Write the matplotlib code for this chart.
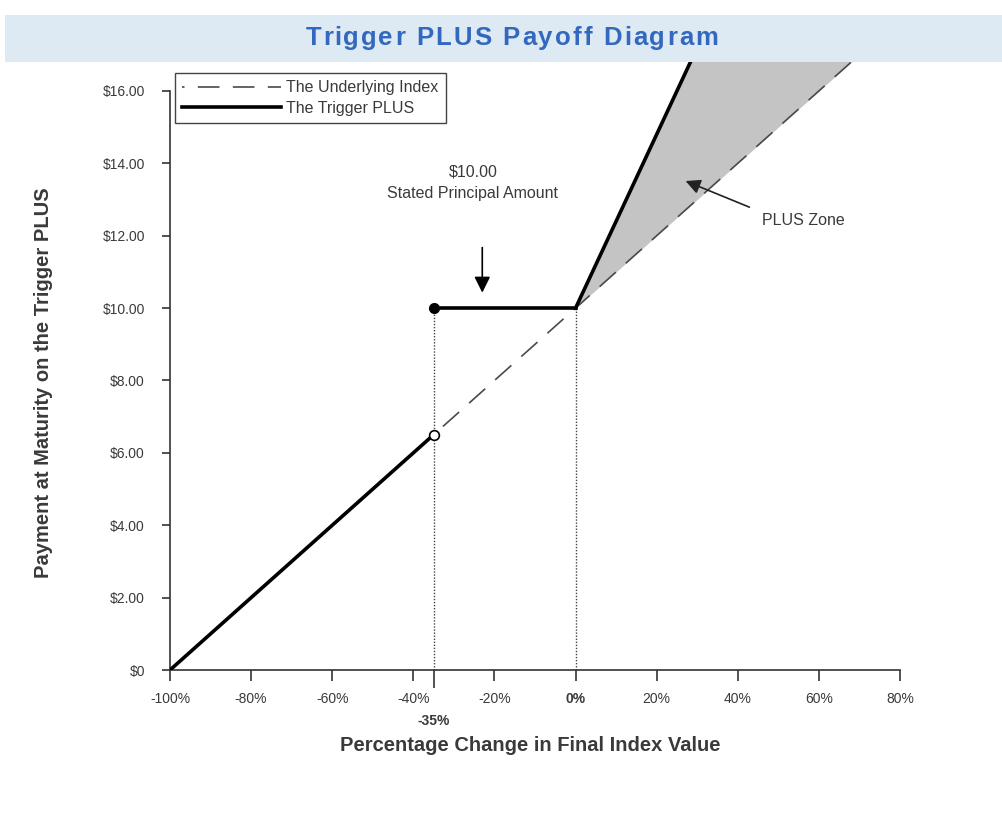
import matplotlib
matplotlib.use("Agg")
import matplotlib.pyplot as plt
from matplotlib.patches import Rectangle
from matplotlib.font_manager import FontProperties

plt.rcParams['font.family'] = ['Liberation Sans', 'DejaVu Sans']

# payoff data (percent change, payment in $)
underlying_pct = [-100, -35, 0, 70]
underlying_pay = [0, 6.5, 10, 17.0]

trigger_low_pct = [-100, -35]
trigger_low_pay = [0, 6.5]
trigger_flat_pct = [-35, 0]
trigger_flat_pay = [10, 10]
trigger_up_pct = [0, 30]
trigger_up_pay = [10, 17.2]

zone_pct = [0, 70]
zone_low = [10, 17.0]
zone_high = [10, 26.8]

trigger_level = -35
principal = 10

xticks = [-100, -80, -60, -40, -20, 0, 20, 40, 60, 80]
xtick_labels = ['-100%', '-80%', '-60%', '-40%', '-20%', '0%', '20%', '40%', '60%', '80%']
yticks = [0, 2, 4, 6, 8, 10, 12, 14, 16]
ytick_labels = ['$0', '$2.00', '$4.00', '$6.00', '$8.00', '$10.00', '$12.00', '$14.00', '$16.00']

title = 'Trigger PLUS Payoff Diagram'
txt = '#3a3a3a'

fig = plt.figure(figsize=(10.03, 8.19), dpi=100)
fig.patches.append(Rectangle((5 / 1003, 0.924), 1 - 5 / 1003, 0.058, transform=fig.transFigure,
                             facecolor='#dde9f3', edgecolor='none', zorder=5))

# title with a little letter spacing, placed char by char to span ~413 px
renderer = fig.canvas.get_renderer()
fp = FontProperties(family='Liberation Sans', weight='bold', size=18.5)
def width_of(s):
    if not s:
        return 0.0
    return renderer.get_text_width_height_descent(s, fp, ismath=False)[0]
target_w = 413
tracking = (target_w - width_of(title)) / (len(title) - 1)
x0 = 512 - target_w / 2
for i, ch in enumerate(title):
    if ch == ' ':
        continue
    xpx = x0 + width_of(title[:i]) + tracking * i
    fig.text(xpx / 1003, 0.953, ch, ha='left', va='center', fontproperties=fp,
             color='#3268bd', zorder=6)

ax = fig.add_axes([0.1695, 0.1819, 0.7278, 0.7424])

ax.fill_between(zone_pct, zone_low, zone_high, color='#c4c4c4', lw=0, zorder=1)
ax.plot(underlying_pct, underlying_pay, color='#4a4a4a', lw=1.2, linestyle=(11.5, (13, 8)),
        label='The Underlying Index', zorder=2)
ax.vlines([trigger_level, 0], 0, principal, colors='#444444', linestyles=(0, (1, 1.2)), lw=1, zorder=2)
ax.plot(trigger_low_pct, trigger_low_pay, color='black', lw=2.6, label='The Trigger PLUS', zorder=3)
ax.plot(trigger_flat_pct, trigger_flat_pay, color='black', lw=2.6, zorder=3)
ax.plot(trigger_up_pct, trigger_up_pay, color='black', lw=2.6, zorder=3)
ax.plot([trigger_level], [principal], 'o', color='black', ms=7, zorder=4)
ax.plot([trigger_low_pct[-1]], [trigger_low_pay[-1]], 'o', mfc='white', mec='black', mew=1.2, ms=7, zorder=4)

ax.set_xlim(-100, 80)
ax.set_ylim(0, 16.8)

for s in ['top', 'right']:
    ax.spines[s].set_visible(False)
ax.spines['left'].set_bounds(0, 16)
ax.spines['bottom'].set_bounds(-100, 80)
for s in ['left', 'bottom']:
    ax.spines[s].set_color('#333333')
    ax.spines[s].set_linewidth(1.2)

ax.set_xticks(xticks)
ax.set_xticklabels(xtick_labels)
ax.set_yticks(yticks)
ax.set_yticklabels(ytick_labels)
ax.tick_params(axis='both', colors='#333333', labelcolor=txt, labelsize=10, width=1.2)
ax.tick_params(axis='x', length=8, pad=8)
ax.tick_params(axis='y', length=6, pad=12)
for lab in ax.get_xticklabels():
    if lab.get_text() == '0%':
        lab.set_fontweight('bold')

ax.set_xticks([trigger_level], minor=True)
ax.set_xticklabels(['-35%'], minor=True, fontweight='bold')
ax.tick_params(axis='x', which='minor', length=13, width=1.2, pad=19, labelsize=10,
               colors='#333333', labelcolor=txt)

ax.set_xlabel('Percentage Change in Final Index Value', fontsize=14.5, fontweight='bold', color=txt)
ax.set_ylabel('Payment at Maturity on the Trigger PLUS', fontsize=14.5, fontweight='bold', color=txt)
ax.xaxis.set_label_coords(0.493, -0.108)
ax.yaxis.set_label_coords(-0.160, 0.472)

ax.text(-25.3, 13.47, '$10.00\nStated Principal Amount', ha='center', va='center',
        fontsize=11.5, color=txt, linespacing=1.55)
ax.annotate('', xy=(-23, 10.35), xytext=(-23, 11.75),
            arrowprops=dict(arrowstyle='-|>', color='black', lw=1.2, mutation_scale=24))
ax.text(46, 12.43, 'PLUS Zone', ha='left', va='center', fontsize=11.5, color=txt)
ax.annotate('', xy=(26.5, 13.54), xytext=(43.5, 12.76),
            arrowprops=dict(arrowstyle='-|>', color='#222222', lw=1.2, mutation_scale=22))

leg = ax.legend(loc='upper left', bbox_to_anchor=(0.007, 0.982), borderaxespad=0,
                fontsize=11.5, handlelength=6.2, handletextpad=0.3, fancybox=False,
                framealpha=1, edgecolor='#444444', borderpad=0.45, labelspacing=0.35)
leg.get_frame().set_linewidth(1)
for t in leg.get_texts():
    t.set_color(txt)

fig.savefig('out.png', dpi=100)
